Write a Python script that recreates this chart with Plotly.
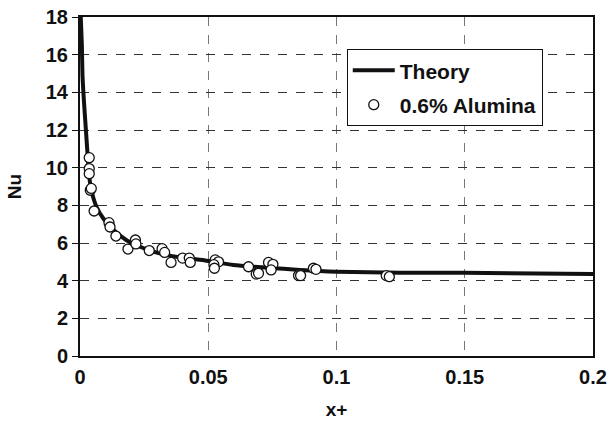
import plotly.graph_objects as go

# Theory curve
theory_x = [0.0003, 0.0007, 0.001, 0.0016, 0.0022, 0.0029, 0.0036, 0.0046, 0.0065, 0.0091,
            0.013, 0.018, 0.0234, 0.0286, 0.035, 0.0416, 0.0494, 0.0598, 0.0728, 0.0858,
            0.1, 0.1248, 0.1494, 0.2]
theory_y = [18.0, 16.6, 14.8, 13.4, 12.2, 10.8, 9.5, 8.7, 7.9, 7.3,
            6.7, 6.16, 5.8, 5.54, 5.33, 5.19, 5.06, 4.83, 4.69, 4.57,
            4.48, 4.42, 4.42, 4.35]

# 0.6% Alumina measurements
alumina_x = [0.0036, 0.0036, 0.0036, 0.0040, 0.0044, 0.0055, 0.0113, 0.0117, 0.014, 0.0187,
             0.0216, 0.0218, 0.027, 0.032, 0.033, 0.0355, 0.040, 0.0426, 0.043,
             0.0527, 0.054, 0.0522, 0.0524, 0.0657, 0.0687, 0.0696, 0.0735, 0.0752, 0.0745,
             0.0852, 0.086, 0.091, 0.092, 0.1194, 0.1206]
alumina_y = [10.53, 9.95, 9.68, 8.8, 8.9, 7.7, 7.08, 6.85, 6.37, 5.68,
             6.16, 5.95, 5.6, 5.7, 5.5, 4.97, 5.2, 5.2, 4.97,
             5.1, 5.0, 4.85, 4.66, 4.74, 4.35, 4.39, 4.97, 4.87, 4.57,
             4.27, 4.27, 4.66, 4.6, 4.27, 4.21]

x_ticks = [0, 0.05, 0.1, 0.15, 0.2]
x_ticklabels = ["0", "0.05", "0.1", "0.15", "0.2"]
y_ticks = list(range(0, 19, 2))

font_family = "Liberation Sans, Arial, sans-serif"

fig = go.Figure()
fig.add_trace(go.Scatter(
    x=theory_x, y=theory_y, mode="lines", name="<b>Theory</b>", legendgroup="a",
    line=dict(color="#111111", width=4, shape="spline", smoothing=0.6),
))
fig.add_trace(go.Scatter(
    x=alumina_x, y=alumina_y, mode="markers", name="<b>0.6% Alumina</b>", legendgroup="b",
    marker=dict(symbol="circle", size=10, color="white", line=dict(color="#111111", width=1.3)),
))

fig.update_layout(
    width=609, height=425,
    margin=dict(l=80, r=16, t=17, b=69),
    paper_bgcolor="white", plot_bgcolor="white",
    font=dict(family=font_family, size=20, color="#111111"),
    showlegend=True,
    legend=dict(
        x=0.52, y=0.905, xanchor="left", yanchor="top",
        bgcolor="white", bordercolor="#111111", borderwidth=1,
        font=dict(family=font_family, size=21, color="#111111"),
        itemwidth=42, tracegroupgap=4,
    ),
    xaxis=dict(
        range=[0, 0.2], tickvals=x_ticks, ticktext=["<b>%s</b>" % t for t in x_ticklabels],
        showgrid=True, gridcolor="#777777", griddash="dash", gridwidth=1,
        showline=True, linecolor="#111111", linewidth=2, mirror=True,
        ticks="outside", ticklen=2, tickcolor="rgba(0,0,0,0)", zeroline=False,
        title=dict(text="<b>x+</b>", font=dict(size=19), standoff=16),
        tickfont=dict(size=20), automargin=False,
    ),
    yaxis=dict(
        range=[0, 18], tickvals=y_ticks, ticktext=["<b>%d</b>" % v for v in y_ticks],
        showgrid=True, gridcolor="#333333", griddash="dash", gridwidth=1,
        showline=True, linecolor="#111111", linewidth=2, mirror=True,
        ticks="outside", ticklen=6, tickcolor="#111111", zeroline=False,
        title=dict(text="<b>Nu</b>", font=dict(size=19), standoff=19),
        tickfont=dict(size=20), automargin=False,
    ),
)

fig.write_html("out.html")
